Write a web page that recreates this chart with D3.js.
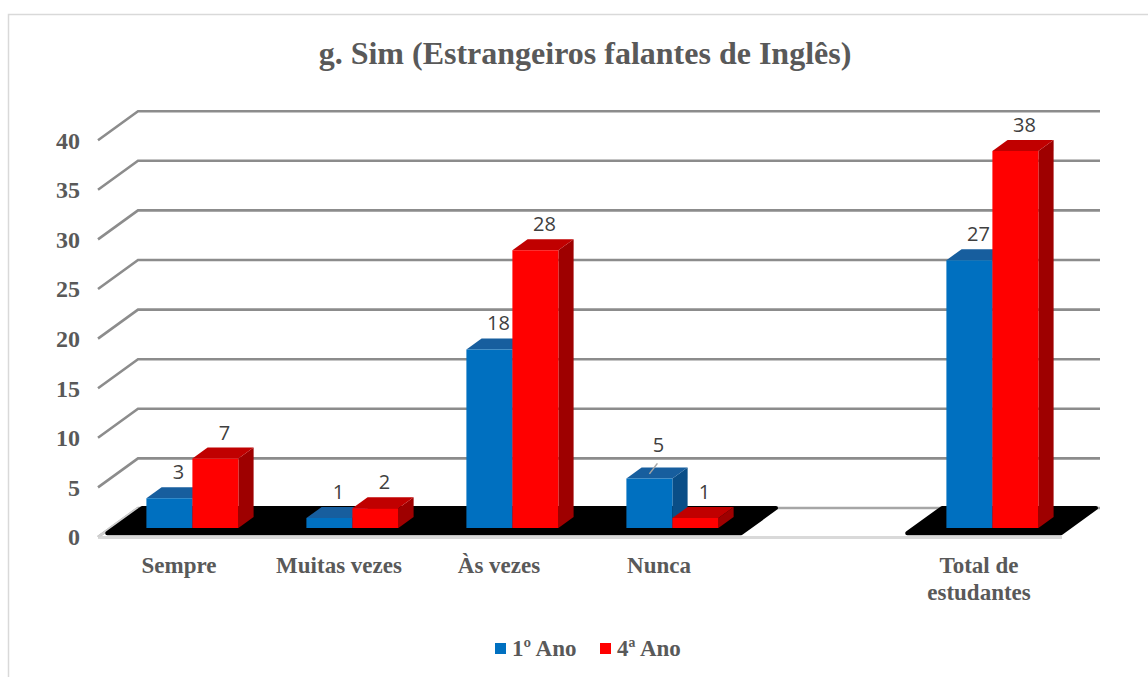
<!DOCTYPE html>
<html>
<head>
<meta charset="utf-8">
<script src="https://cdn.jsdelivr.net/npm/d3@7"></script>
<style>
  html, body { margin: 0; padding: 0; background: #ffffff; }
  svg { display: block; }
</style>
</head>
<body>
<svg id="chart" width="1148" height="677"></svg>
<script>
// ---- data ----
const categories = ["Sempre", "Muitas vezes", "Às vezes", "Nunca", "", "Total de estudantes"];
const seriesNames = ["1º Ano", "4ª Ano"];
const ano1 = [3, 1, 18, 5, null, 27];
const ano4 = [7, 2, 28, 1, null, 38];
const yTicks = [0, 5, 10, 15, 20, 25, 30, 35, 40];
const title = "g. Sim (Estrangeiros falantes de Inglês)";

// ---- styles ----
const colors = [
  { front: "#0070c0", top: "#175e9e", side: "#0a4e87" },
  { front: "#ff0000", top: "#c00000", side: "#9e0000" }
];
const textGray = "#595959";
const gridGray = "#8c8c8c";
const serif = "'Liberation Serif', 'Times New Roman', serif";

const svg = d3.select("#chart");

// border
svg.append("rect").attr("x", 8.5).attr("y", 14.5).attr("width", 1160).attr("height", 700)
  .attr("fill", "#fff").attr("stroke", "#d9d9d9").attr("stroke-width", 1.5);

// ---- scales (oblique 3D projection) ----
const x = d3.scaleBand().domain(d3.range(categories.length)).range([100, 1060]);
const y = d3.scaleLinear().domain([0, 40]).range([0, 396.8]); // height in px
const depthX = 40, depthY = 29, floorY = 537;
const P = (bx, v, t) => [bx + depthX * t, floorY - depthY * t - y(v)];

// title
svg.append("text").attr("x", 585).attr("y", 64).attr("text-anchor", "middle")
  .attr("font-family", serif).attr("font-weight", "bold").attr("font-size", 32)
  .attr("fill", textGray).text(title);

// ---- wall gridlines ----
const g = svg.append("g");
const x0 = x.range()[0], x1 = x.range()[1];
yTicks.forEach(v => {
  const a = P(x0 - 2, v, 0), b = P(x0 - 2, v, 1), c = P(x1, v, 1);
  g.append("path")
    .attr("d", d3.line()([a, b, c]))
    .attr("fill", "none")
    .attr("stroke", v === 0 ? "#a6a6a6" : gridGray)
    .attr("stroke-width", 2.6);
});

// front floor edge
g.append("line")
  .attr("x1", P(x0 - 2, 0, 0)[0]).attr("y1", P(x0, 0, 0)[1] + 0.5)
  .attr("x2", P(x1 + 2, 0, 0)[0]).attr("y2", P(x1, 0, 0)[1] + 0.5)
  .attr("stroke", "#d9d9d9").attr("stroke-width", 3);
g.append("line")
  .attr("x1", P(x0 - 2, 0, 0)[0]).attr("y1", P(x0, 0, 0)[1])
  .attr("x2", P(x0 - 2, 0, 1)[0]).attr("y2", P(x0, 0, 1)[1])
  .attr("stroke", "#d0d0d0").attr("stroke-width", 2.6);

// ---- black floor shadows (grouped consecutive categories with data) ----
const groups = [];
categories.forEach((c, i) => {
  const has = ano1[i] != null || ano4[i] != null;
  if (!has) return;
  const last = groups[groups.length - 1];
  if (last && last.end === i - 1) last.end = i; else groups.push({ start: i, end: i });
});
groups.forEach(gr => {
  const bl = x(gr.start) + 2, br = x(gr.end) + x.bandwidth() - 4;
  const tf = 0.13, tb = 1.0;
  const pts = [P(bl, 0, tb), P(br, 0, tb), P(br, 0, tf), P(bl, 0, tf)];
  g.append("path")
    .attr("d", d3.line().curve(d3.curveLinearClosed)(pts))
    .attr("fill", "#000").attr("stroke", "#000").attr("stroke-width", 4)
    .attr("stroke-linejoin", "round");
});

// ---- bars ----
const barW = 46, t0 = 0.31, t1 = 0.69;
const series = [ano1, ano4];
const bars = svg.append("g");
categories.forEach((c, i) => {
  const cx = x(i) + x.bandwidth() / 2;
  series.forEach((vals, s) => {
    const v = vals[i];
    if (v == null) return;
    const bl = cx - barW + s * barW, br = bl + barW;
    const col = colors[s];
    const fbl = P(bl, 0, t0), fbr = P(br, 0, t0), ftl = P(bl, v, t0), ftr = P(br, v, t0);
    const btl = P(bl, v, t1), btr = P(br, v, t1), bbr = P(br, 0, t1);
    bars.append("path").attr("d", d3.line().curve(d3.curveLinearClosed)([fbr, ftr, btr, bbr]))
      .attr("fill", col.side);
    bars.append("path").attr("d", d3.line().curve(d3.curveLinearClosed)([ftl, ftr, btr, btl]))
      .attr("fill", col.top);
    bars.append("path").attr("d", d3.line().curve(d3.curveLinearClosed)([fbl, fbr, ftr, ftl]))
      .attr("fill", col.front);

    // data label
    const lx = (ftl[0] + ftr[0]) / 2 + 9;
    let ly = btl[1] - 8;
    // a label that would sit on a gridline is lifted, with a leader line
    const nearGrid = yTicks.some(t => Math.abs(P(0, t, 1)[1] - (ly - 5)) < 8);
    if (nearGrid && s === 0) {
      const lifted = ly - 7;
      bars.append("line")
        .attr("x1", lx - 1).attr("y1", lifted + 11)
        .attr("x2", lx - 9).attr("y2", (ftl[1] + btl[1]) / 2 + 1)
        .attr("stroke", "#a6a6a6").attr("stroke-width", 1.5);
      ly = lifted;
    }
    bars.append("text").attr("x", lx).attr("y", ly).attr("text-anchor", "middle")
      .attr("font-family", "'Open Sans', 'Liberation Sans', sans-serif").attr("font-size", 20)
      .attr("fill", "#404040").text(v);
  });
});

// ---- y axis labels ----
yTicks.forEach(v => {
  const p = P(x0 - 2, v, 0);
  svg.append("text").attr("x", 80).attr("y", p[1]).attr("dy", "0.35em")
    .attr("text-anchor", "end").attr("font-family", serif).attr("font-weight", "bold")
    .attr("font-size", 24).attr("fill", textGray).text(v);
});

// ---- category labels ----
const catWrap = { "Total de estudantes": ["Total de", "estudantes"] };
categories.forEach((c, i) => {
  if (!c) return;
  const lines = catWrap[c] || [c];
  const t = svg.append("text").attr("text-anchor", "middle")
    .attr("font-family", serif).attr("font-weight", "bold").attr("font-size", 23)
    .attr("fill", textGray);
  lines.forEach((ln, k) => {
    t.append("tspan").attr("x", x(i) + x.bandwidth() / 2 - 1).attr("y", 573 + k * 27).text(ln);
  });
});

// ---- legend ----
const legend = svg.append("g");
const legendX = [495, 600];
seriesNames.forEach((name, s) => {
  legend.append("rect").attr("x", legendX[s]).attr("y", 643).attr("width", 11).attr("height", 11)
    .attr("fill", colors[s].front);
  legend.append("text").attr("x", legendX[s] + 17).attr("y", 656)
    .attr("font-family", serif).attr("font-weight", "bold").attr("font-size", 23)
    .attr("fill", textGray).text(name);
});
</script>
</body>
</html>
